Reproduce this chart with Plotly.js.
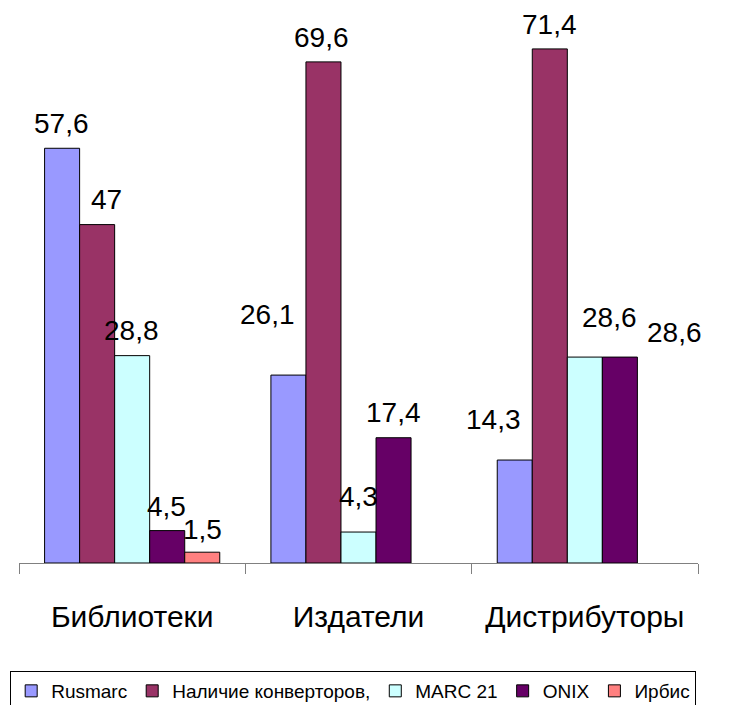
<!DOCTYPE html>
<html>
<head>
<meta charset="utf-8">
<script src="https://cdn.plot.ly/plotly-3.0.1.min.js"></script>
<style>html,body{margin:0;padding:0;background:#fff;}#chart{width:750px;height:705px;}</style>
</head>
<body>
<div id="chart"></div>
<script>
// ---- data ----
var categories = ['Библиотеки', 'Издатели', 'Дистрибуторы'];
var seriesNames = ['Rusmarc', 'Наличие конверторов,', 'MARC 21', 'ONIX', 'Ирбис'];
var rusmarc    = [57.6, 26.1, 14.3];
var converters = [47, 69.6, 71.4];
var marc21     = [28.8, 4.3, 28.6];
var onix       = [4.5, 17.4, 28.6];
var irbis      = [1.5, null, null];
var seriesValues = [rusmarc, converters, marc21, onix, irbis];

// ---- styles ----
var colors = ['#9999FF', '#993366', '#CCFFFF', '#660066', '#FF8080'];
// label displacement (pixels) relative to default position above each bar: [dx, dy]
var labelShift = [
  [[-1, 25], [-21, 61], [-21, 41]],
  [[9, 25], [-2, 24], [0, 24]],
  [[-1, 25], [0, 36], [25, 40]],
  [[-1, 24], [0, 25], [55, 25]],
  [[0, 23], null, null]
];
var bargap = 0.226;
var FONT = 'Liberation Sans, Arial, sans-serif';

var traces = seriesValues.map(function (vals, i) {
  return {
    type: 'bar',
    name: seriesNames[i],
    x: categories,
    y: vals,
    marker: {color: colors[i], line: {color: '#000000', width: 1}},
    hoverinfo: 'none'
  };
});

function fmt(v) { return String(v).replace('.', ','); }

var annotations = [];
var n = seriesValues.length;
var barW = (1 - bargap) / n;
seriesValues.forEach(function (vals, i) {
  vals.forEach(function (v, j) {
    if (v === null) return;
    var s = labelShift[i][j];
    annotations.push({
      x: j + (i - (n - 1) / 2) * barW,
      y: v,
      xref: 'x', yref: 'y',
      text: fmt(v),
      showarrow: false,
      xanchor: 'center', yanchor: 'middle',
      xshift: s[0], yshift: s[1],
      font: {family: FONT, size: 28, color: '#000000'}
    });
  });
});

var layout = {
  width: 750, height: 705,
  margin: {l: 19, r: 52, t: 23, b: 142, autoexpand: false},
  paper_bgcolor: '#ffffff', plot_bgcolor: '#ffffff',
  barmode: 'group', bargap: bargap, bargroupgap: 0,
  showlegend: true,
  legend: {
    orientation: 'h',
    x: -0.013, y: -0.2, xanchor: 'left', yanchor: 'top',
    bordercolor: '#000000', borderwidth: 1, bgcolor: '#ffffff',
    font: {family: FONT, size: 19, color: '#000000'},
    traceorder: 'normal'
  },
  xaxis: {
    type: 'category',
    range: [-0.5, 2.5],
    showline: true, linecolor: '#808080', linewidth: 1,
    ticks: 'outside', tickson: 'boundaries', ticklen: 10, tickcolor: '#808080', tickwidth: 1,
    showgrid: false, zeroline: false,
    ticklabelstandoff: 27,
    tickfont: {family: FONT, size: 30, color: '#000000'}
  },
  yaxis: {
    range: [0, 75],
    visible: false, showgrid: false, zeroline: false
  },
  annotations: annotations
};

Plotly.newPlot('chart', traces, layout, {displayModeBar: false, staticPlot: true});
</script>
</body>
</html>
